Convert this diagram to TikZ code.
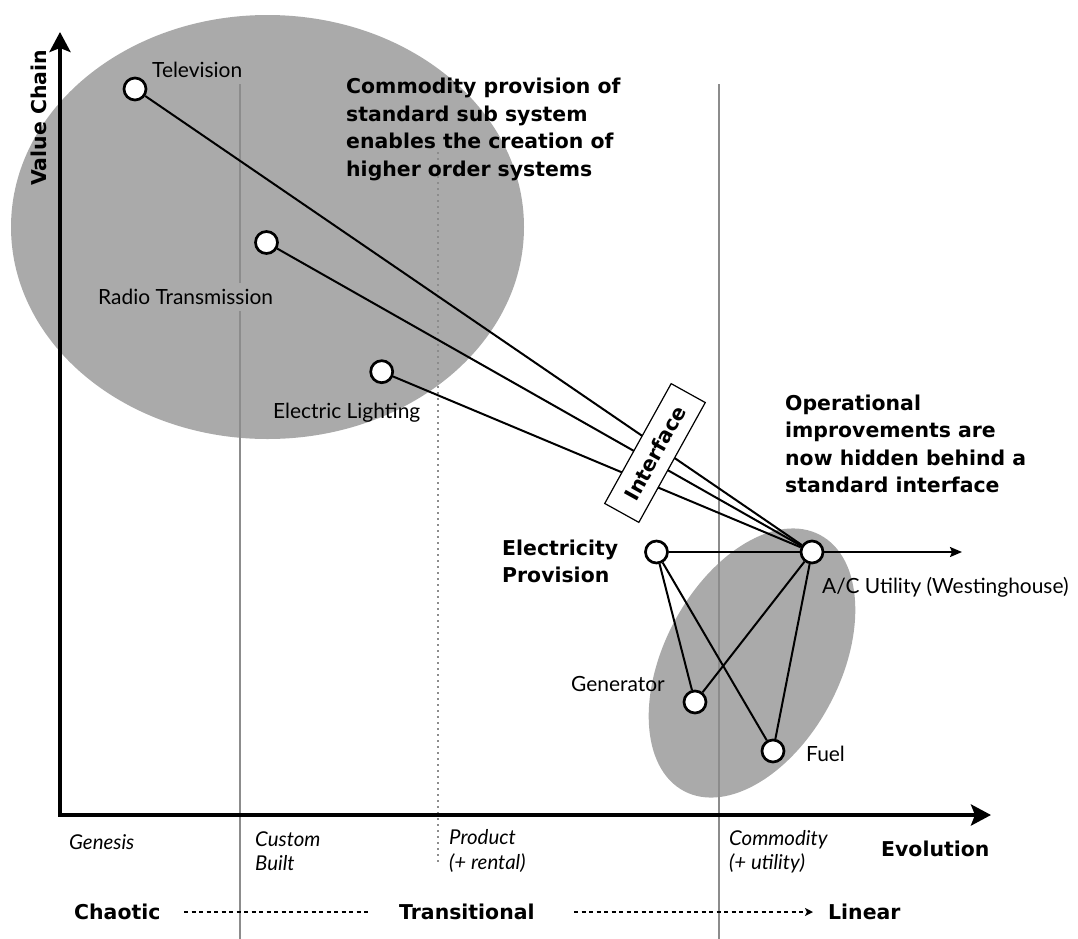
\documentclass[tikz,border=0pt]{standalone}
\usepackage{fontspec}
\setmainfont{Lato}
\newfontfamily\heavy{DejaVu Sans}
\usetikzlibrary{arrows.meta}

\definecolor{blob}{HTML}{AAAAAA}
\definecolor{rulegray}{HTML}{8C8C8C}

\begin{document}
\begin{tikzpicture}[x=1bp,y=-1bp,
  comp/.style={circle, draw=black, fill=white, line width=2.7bp, minimum size=22bp, inner sep=0pt},
  link/.style={line width=2bp, black},
  lbl/.style={font=\fontsize{21}{25}\selectfont, inner sep=1bp, anchor=west},
  note/.style={font=\heavy\bfseries\fontsize{20.5}{27.5}\selectfont, align=left, anchor=west, inner sep=0pt},
  stage/.style={font=\itshape\fontsize{20.5}{24.5}\selectfont, align=left, anchor=west, inner sep=0pt},
  axisline/.style={line width=4.5bp, line join=miter, {Stealth[length=20bp,width=21bp,inset=4bp]}-{Stealth[length=20bp,width=21bp,inset=4bp]}},
  phase/.style={line width=1.6bp, dash pattern=on 4bp off 3.5bp},
  era/.style={rulegray, line width=2bp},
]

\useasboundingbox (0,0) rectangle (1078,939);

% shaded groupings
\fill[blob] (267.5,227) ellipse [x radius=256.5, y radius=212];
\fill[blob, rotate around={62:(752,663)}] (752,663) ellipse [x radius=145, y radius=88];

% stage boundaries
\draw[era] (240,84) -- (240,939);
\draw[era] (719,84) -- (719,939);
\draw[rulegray, line width=1.5bp, dash pattern=on 1.5bp off 4.5bp] (438,152) -- (438,866);

% axes
\coordinate (ytip) at (60,32);
\coordinate (origin) at (60,815);
\coordinate (xtip) at (991,815);
\draw[axisline] (ytip) -- (origin) -- (xtip);

% components
\node[comp] (tv) at (135,89) {};
\node[comp] (radio) at (266.5,242.5) {};
\node[comp] (light) at (381.7,371.7) {};
\node[comp] (elec) at (656.5,552) {};
\node[comp] (acu) at (812,552) {};
\node[comp] (gen) at (695,702) {};
\node[comp] (fuel) at (773,751) {};
\coordinate (acuend) at (962,552);

% dependencies
\draw[link] (tv) -- (acu);
\draw[link] (radio) -- (acu);
\draw[link] (light) -- (acu);
\draw[link] (elec) -- (acu);
\draw[link] (elec) -- (gen);
\draw[link] (elec) -- (fuel);
\draw[link] (gen) -- (acu);
\draw[link] (fuel) -- (acu);
\draw[link, line width=1.8bp, -{Stealth[length=12bp,width=10bp,inset=2bp]}] (acu) -- (acuend);

% interface box
\node[draw, fill=white, line width=1.2bp, rotate=61, minimum width=137bp, minimum height=39bp,
      font=\heavy\bfseries\fontsize{20.5}{24}\selectfont] (iface) at (655,453) {Interface};

% component labels
\node[lbl] (tvlbl) at (151,70) {Television};
\node[lbl, fill=blob, inner ysep=6bp] (radiolbl) at (97,297) {Radio Transmission};
\node[lbl] (lightlbl) at (272,413) {Electric Lighting};
\node[lbl] (acutlbl) at (821,587) {A/C Utility (Westinghouse)};
\node[lbl] (genlbl) at (570,684) {Generator};
\node[lbl] (fuellbl) at (805,754) {Fuel};
\node[note] (eleclbl) at (502,561.5) {Electricity\\Provision};

% commentary
\node[note] (commodity) at (346,129.5) {Commodity provision of\\standard sub system\\enables the creation of\\higher order systems};
\node[note] (operational) at (785,444) {Operational\\improvements are\\now hidden behind a\\standard interface};

% axis titles
\node[font=\heavy\bfseries\fontsize{20.5}{24}\selectfont, rotate=90, inner sep=0pt] (ytitle) at (39,118) {Value Chain};
\node[note] (xtitle) at (881,849) {Evolution};

% stages of evolution
\node[stage] (genesis) at (69,842) {Genesis};
\node[stage] (custom) at (255,851) {Custom\\Built};
\node[stage] (product) at (449,851) {Product\\(+ rental)};
\node[stage] (commod) at (729,852) {Commodity\\(+ utility)};

% character of each stage
\node[note] (chaotic) at (74,912) {Chaotic};
\node[note] (transitional) at (399,912) {Transitional};
\node[note] (linear) at (828,912) {Linear};
\coordinate (c1) at (184,912);
\coordinate (c2) at (368,912);
\coordinate (l1) at (574,912);
\coordinate (l2) at (813,912);
\draw[phase] (c1) -- (c2);
\draw[phase, -{Stealth[length=8bp,width=8bp,inset=2bp]}] (l1) -- (l2);

\end{tikzpicture}
\end{document}
